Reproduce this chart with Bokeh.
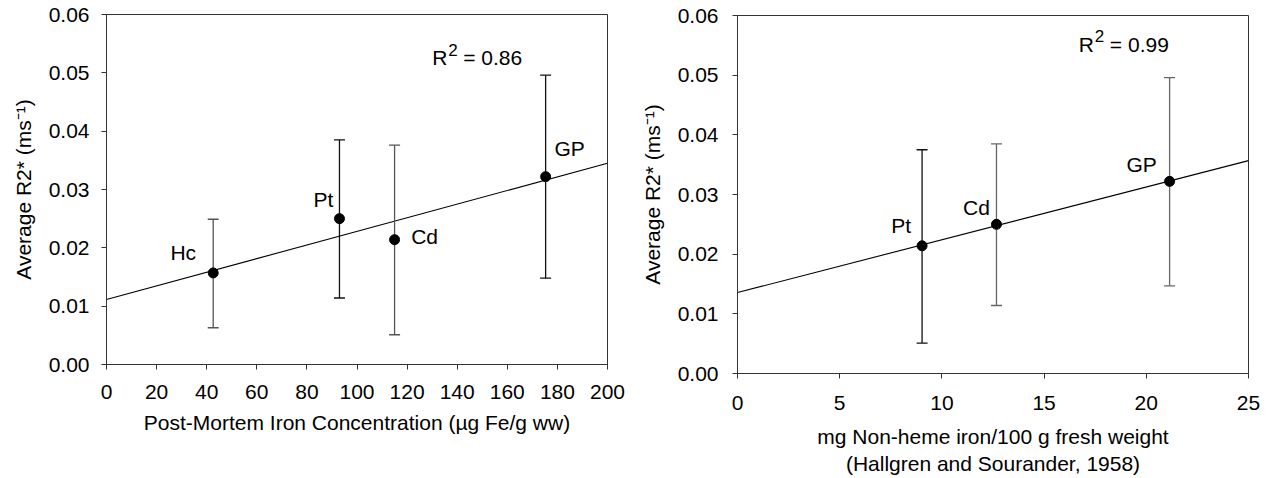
import numpy as np
from bokeh.plotting import figure
from bokeh.layouts import row
from bokeh.models import ColumnDataSource, Range1d, FixedTicker, PrintfTickFormatter
from bokeh.core.properties import value
from bokeh.embed import file_html
from bokeh.resources import INLINE

# ---------------- data ----------------
# Left panel: post-mortem iron concentration
iron_conc = [42.6, 93.0, 115.0, 175.3]
left_labels = ["Hc", "Pt", "Cd", "GP"]
left_r2 = [0.0157, 0.0250, 0.0214, 0.0322]
left_lo = [0.0063, 0.0114, 0.0051, 0.0148]
left_hi = [0.0249, 0.0385, 0.0376, 0.0496]
left_r2_text = "0.86"
left_xlabel = "Post-Mortem Iron Concentration (\u00b5g Fe/g ww)"

# Right panel: non-heme iron (Hallgren and Sourander, 1958)
nonheme = [9.03, 12.67, 21.14]
right_labels = ["Pt", "Cd", "GP"]
right_r2 = [0.0214, 0.0250, 0.0322]
right_lo = [0.0051, 0.0114, 0.0147]
right_hi = [0.0375, 0.0385, 0.0496]
right_r2_text = "0.99"
right_xlabel = "mg Non-heme iron/100 g fresh weight\n(Hallgren and Sourander, 1958)"

y_label = "Average R2* (ms\u207b\u00b9)"
y_ticks = [0.0, 0.01, 0.02, 0.03, 0.04, 0.05, 0.06]
left_x_ticks = [0, 20, 40, 60, 80, 100, 120, 140, 160, 180, 200]
right_x_ticks = [0, 5, 10, 15, 20, 25]

# ---------------- styles ----------------
FONT = "Liberation Sans"
FS = "21px"
AX = "#333333"
left_bar_colors = ["#555555", "#111111", "#555555", "#111111"]
right_bar_colors = ["#111111", "#666666", "#666666"]
left_dx = [-30, -16, 30, 24]
left_up = [20, 19, 3, 28]
right_dx = [-21, -20, -28]
right_up = [20, 17, 17]


def make_panel(xs, ys, lo, hi, labels, colors, dx, up, x_end, x_ticks,
               xlabel, r2_text, r2_anchor, width, height, bl, br, bt, bb,
               ylab_standoff, ytick_standoff, xlab_standoff, xtick_standoff):
    p = figure(width=width, height=height, output_backend="svg",
               toolbar_location=None,
               x_range=Range1d(0, x_end), y_range=Range1d(0, 0.06),
               min_border_left=bl, min_border_right=br,
               min_border_top=bt, min_border_bottom=bb)
    p.frame_align = False
    p.grid.visible = False
    p.outline_line_color = AX
    p.outline_line_width = 1
    p.background_fill_color = "white"
    p.border_fill_color = "white"

    for ax in (p.xaxis[0], p.yaxis[0]):
        ax.axis_line_color = AX
        ax.major_tick_line_color = AX
        ax.major_tick_in = 0
        ax.major_tick_out = 5
        ax.minor_tick_line_color = None
        ax.major_label_text_font = FONT
        ax.major_label_text_font_size = FS
        ax.major_label_text_color = "black"
        ax.axis_label_text_font = FONT
        ax.axis_label_text_font_size = FS
        ax.axis_label_text_font_style = "normal"
        ax.axis_label_text_color = "black"

    p.xaxis.ticker = FixedTicker(ticks=x_ticks)
    p.yaxis.ticker = FixedTicker(ticks=y_ticks)
    p.yaxis.formatter = PrintfTickFormatter(format="%.2f")
    p.xaxis.axis_label = xlabel
    p.yaxis.axis_label = y_label
    p.yaxis.axis_label_standoff = ylab_standoff
    p.yaxis.major_label_standoff = ytick_standoff
    p.xaxis.axis_label_standoff = xlab_standoff
    p.xaxis.major_label_standoff = xtick_standoff

    src = ColumnDataSource(dict(x=xs, y=ys, lo=lo, hi=hi, lab=labels,
                                col=colors, dx=dx, dy=[-u for u in up]))

    # regression line computed from the data
    slope, intercept = np.polyfit(np.array(xs), np.array(ys), 1)
    lx = np.array([0.0, float(x_end)])
    p.line(lx, intercept + slope * lx, line_color="black", line_width=1.1)

    # error bars
    p.segment(x0="x", y0="lo", x1="x", y1="hi", source=src,
              line_color="col", line_width=1.3)
    p.scatter(x="x", y="lo", source=src, marker="dash", size=11,
              line_color="col", line_width=1.3)
    p.scatter(x="x", y="hi", source=src, marker="dash", size=11,
              line_color="col", line_width=1.3)

    # points
    p.scatter(x="x", y="y", source=src, marker="circle", size=10,
              fill_color="black", line_color="black")

    # labels
    p.text(x="x", y="y", text="lab", source=src, x_offset="dx", y_offset="dy",
           text_align="center", text_baseline="middle",
           text_font=value(FONT), text_font_size=FS, text_color="black")

    # R^2 annotation
    ax_, ay_ = r2_anchor
    p.text(x=[ax_], y=[ay_], text=["R"], text_align="left",
           text_baseline="alphabetic", text_font=value(FONT),
           text_font_size=FS, text_color="black")
    p.text(x=[ax_], y=[ay_], text=["2"], x_offset=16, y_offset=-8,
           text_align="left", text_baseline="alphabetic",
           text_font=value(FONT), text_font_size="17px", text_color="black")
    p.text(x=[ax_], y=[ay_], text=["= " + r2_text], x_offset=31,
           text_align="left", text_baseline="alphabetic",
           text_font=value(FONT), text_font_size=FS, text_color="black")
    return p


p1 = make_panel(iron_conc, left_r2, left_lo, left_hi, left_labels,
                left_bar_colors, left_dx, left_up, 200, left_x_ticks,
                left_xlabel, left_r2_text, (130.0, 0.0526),
                628, 478, 106, 21, 14, 114,
                ylab_standoff=11, ytick_standoff=12,
                xlab_standoff=9, xtick_standoff=15)

p2 = make_panel(nonheme, right_r2, right_lo, right_hi, right_labels,
                right_bar_colors, right_dx, right_up, 25, right_x_ticks,
                right_xlabel, right_r2_text, (16.7, 0.0552),
                632, 478, 109, 12, 15, 105,
                ylab_standoff=11, ytick_standoff=14,
                xlab_standoff=12, xtick_standoff=17)

layout = row(p1, p2)
open("out.html", "w").write(file_html(layout, INLINE))
